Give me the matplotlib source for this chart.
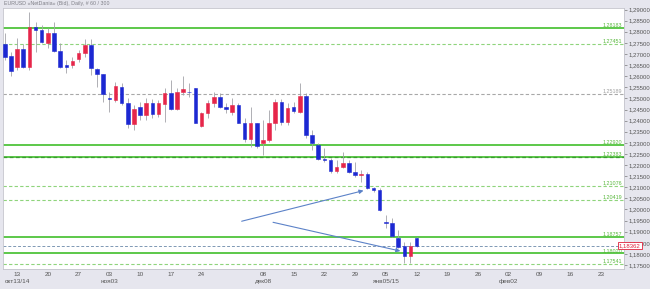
import matplotlib
matplotlib.use("Agg")
import matplotlib.pyplot as plt
import matplotlib.transforms as mtransforms
import numpy as np
import pandas as pd

# daily EURUSD candles, 9 Oct 2014 .. 12 Jan 2015
dates = pd.bdate_range("2014-10-09", "2015-01-12")
opens = [1.27437, 1.26911, 1.26429, 1.27226, 1.26402, 1.28216, 1.28081, 1.27482, 1.27960, 1.27149,
         1.26505, 1.26505, 1.26776, 1.27059, 1.27406, 1.26325, 1.26100, 1.25033, 1.24930, 1.25528,
         1.24781, 1.23835, 1.24601, 1.24254, 1.24781, 1.24299, 1.24749, 1.25231, 1.24511, 1.25303,
         1.25303, 1.25456, 1.23759, 1.24331, 1.24808, 1.25051, 1.24628, 1.24403, 1.24704, 1.23907,
         1.23160, 1.23880, 1.22980, 1.23128, 1.23907, 1.24826, 1.23952, 1.24628, 1.24403, 1.25110,
         1.23354, 1.22903, 1.22273, 1.22228, 1.21733, 1.21899, 1.22106, 1.21701, 1.21539, 1.21598,
         1.20981, 1.20877, 1.19450, 1.19378, 1.18703, 1.18356, 1.17919, 1.18703]
highs = [1.27946, 1.27104, 1.27721, 1.27437, 1.28905, 1.28455, 1.28306, 1.28158, 1.28455, 1.27482,
         1.26731, 1.26879, 1.27181, 1.27663, 1.27663, 1.26357, 1.26100, 1.25303, 1.25753, 1.25681,
         1.25006, 1.24704, 1.24853, 1.25006, 1.24961, 1.24930, 1.25456, 1.25830, 1.25456, 1.26010,
         1.25681, 1.25470, 1.24403, 1.24930, 1.25276, 1.25231, 1.24808, 1.25006, 1.24781, 1.24106,
         1.24628, 1.23907, 1.24029, 1.24479, 1.24961, 1.24961, 1.24781, 1.24853, 1.25708, 1.25231,
         1.23579, 1.22980, 1.22755, 1.22305, 1.22228, 1.22602, 1.22228, 1.22151, 1.21778, 1.21701,
         1.21026, 1.20954, 1.19752, 1.19630, 1.19076, 1.18549, 1.18549, 1.18775]
lows = [1.26731, 1.26024, 1.26280, 1.26357, 1.26280, 1.27104, 1.27482, 1.27257, 1.27104, 1.26357,
        1.26132, 1.26357, 1.26654, 1.26879, 1.26055, 1.25528, 1.24853, 1.24403, 1.24853, 1.24704,
        1.23655, 1.23579, 1.24029, 1.24029, 1.24106, 1.24178, 1.23952, 1.24479, 1.24479, 1.25155,
        1.25078, 1.23880, 1.23727, 1.24106, 1.24628, 1.24556, 1.24331, 1.24254, 1.23880, 1.23052,
        1.22827, 1.22755, 1.22453, 1.23052, 1.23579, 1.23804, 1.23804, 1.24331, 1.24331, 1.23205,
        1.22678, 1.22228, 1.22151, 1.21629, 1.21629, 1.21854, 1.21629, 1.21476, 1.21251, 1.20922,
        1.20801, 1.19945, 1.19153, 1.18775, 1.18252, 1.17577, 1.17577, 1.18324]
closes = [1.26879, 1.26249, 1.27226, 1.26429, 1.28216, 1.28081, 1.27555, 1.27960, 1.27149, 1.26429,
          1.26429, 1.26699, 1.27059, 1.27406, 1.26357, 1.26100, 1.25200, 1.24961, 1.25560, 1.24781,
          1.23849, 1.24524, 1.24254, 1.24781, 1.24299, 1.24781, 1.25231, 1.24511, 1.25303, 1.25425,
          1.25276, 1.23907, 1.24358, 1.24808, 1.25051, 1.24628, 1.24524, 1.24704, 1.23907, 1.23160,
          1.23880, 1.22858, 1.23128, 1.23880, 1.24826, 1.23952, 1.24556, 1.24434, 1.25110, 1.23354,
          1.22980, 1.22273, 1.22228, 1.21746, 1.21926, 1.22106, 1.21701, 1.21553, 1.21598, 1.20981,
          1.20877, 1.19977, 1.19378, 1.18790, 1.18324, 1.17919, 1.18356, 1.18362]

# horizontal levels
solid_levels = [1.28183, 1.22920, 1.18757, 1.18020]
double_levels = [1.22383]          # solid + dashed drawn on top of each other
dashed_levels = [1.27451, 1.21076, 1.20419, 1.17541]
gray_levels = [1.25189]
last_price = 1.18362

# x axis labels (trading-day offsets from 13 Oct)
tick_days = [0, 5, 10, 15, 20, 25, 30, 40, 45, 50, 55, 60, 65, 70, 75, 80, 85, 90, 95]
tick_labels = ["13\nокт13/14", "20", "27", "03\nноя03", "10", "17", "24", "08\nдек08", "15", "22",
               "29", "05\nянв05/15", "12", "19", "26", "02\nфев02", "09", "16", "23"]

# trend arrows: (start day, start price, end day, end price)
arrows = [(36.1, 1.1944, 56.8, 1.2088), (41.2, 1.1945, 62.8, 1.1810)]

plt.rcParams["font.family"] = ["Liberation Sans", "DejaVu Sans"]

W, H = 650, 289
fig = plt.figure(figsize=(6.5, 2.89), dpi=100, facecolor="#e6e6ee")
ax = fig.add_axes([3 / W, 20 / H, 621 / W, 261 / H])
ax.set_facecolor("white")

x = np.arange(len(dates)) - 2
o = np.array(opens); c = np.array(closes)
up = c >= o
blue, red = "#1c28d2", "#e6264a"

ax.vlines(x, lows, highs, color="#a2a2a8", lw=0.6, zorder=3)
cols = np.where(up, red, blue)
ax.bar(x, c - o, bottom=o, width=0.58, color=cols, edgecolor=cols, linewidth=0.4, zorder=4)

for lv in solid_levels:
    ax.axhline(lv, color="#5cc84a", lw=1.4, zorder=2)
for lv in double_levels:
    ax.axhline(lv, color="#5cc84a", lw=1.4, zorder=2)
    ax.axhline(lv, color="#3c9a32", lw=0.9, ls=(0, (3, 2)), zorder=2)
for lv in dashed_levels:
    ax.axhline(lv, color="#8fd47c", lw=0.8, ls=(0, (3, 2)), zorder=2)
for lv in gray_levels:
    ax.axhline(lv, color="#a8a8a8", lw=0.8, ls=(0, (3, 2)), zorder=2)
ax.axhline(last_price, color="#7e98b4", lw=0.7, ls=(0, (3, 2)), zorder=2)

trans = mtransforms.blended_transform_factory(ax.transAxes, ax.transData)
for lv in solid_levels + double_levels + dashed_levels:
    ax.text(0.997, lv + 0.0002, f"{lv:.5f}".replace(".", ","), transform=trans, ha="right",
            va="bottom", fontsize=3.9, color="#58b83c", zorder=5)
for lv in gray_levels:
    ax.text(0.997, lv + 0.0002, f"{lv:.5f}".replace(".", ","), transform=trans, ha="right",
            va="bottom", fontsize=3.9, color="#a0a0a0", zorder=5)

for x0, y0, x1, y1 in arrows:
    ax.annotate("", xy=(x1, y1), xytext=(x0, y0),
                arrowprops=dict(arrowstyle="-|>", color="#5c82c8", lw=0.8, mutation_scale=6),
                zorder=6)

ax.set_xlim(-2.3, 98.75)
ax.set_ylim(1.17320, 1.29070)

ax.set_xticks(tick_days)
ax.set_xticklabels(tick_labels, fontsize=4.6, color="#555555", linespacing=1.5, va="top")
ax.tick_params(axis="x", length=0, pad=2)

yt = np.arange(1.175, 1.2901, 0.005)
ax.yaxis.tick_right()
ax.set_yticks(yt)
ax.set_yticklabels([f"{v:.5f}".replace(".", ",") for v in yt], fontsize=4.3, color="#555555")
ax.tick_params(axis="y", length=2, width=0.5, color="#777777", pad=1)

for s in ax.spines.values():
    s.set_color("#c4c4cc")
    s.set_linewidth(0.6)

ax.text(0.992, last_price, f"{last_price:.5f}".replace(".", ","), transform=trans, ha="left",
        va="center", fontsize=4.3, color="#e0203c", zorder=10, clip_on=False,
        bbox=dict(boxstyle="square,pad=0.15", fc="white", ec="#e0203c", lw=0.6))

fig.text(4 / W, 1 - 4 / H, "EURUSD «NetDania» (Bid), Daily, # 60 / 300", fontsize=3.8,
         color="#808088", va="center", ha="left")

fig.savefig("out.png", dpi=100, facecolor=fig.get_facecolor())
